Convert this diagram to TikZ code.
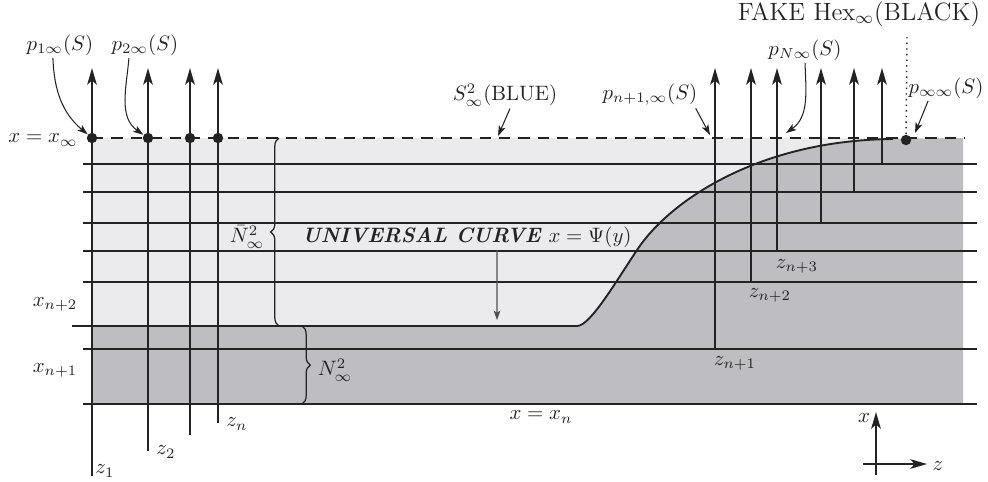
\documentclass[tikz,border=0pt]{standalone}
\usetikzlibrary{arrows.meta,decorations.pathreplacing}
\definecolor{lightfill}{RGB}{235,235,237}
\definecolor{darkfill}{RGB}{190,189,194}
\definecolor{ink}{RGB}{35,35,35}
\begin{document}
\begin{tikzpicture}[x=0.48pt,y=0.48pt,
  ln/.style={ink, line width=0.9pt},
  vup/.style={ink, line width=0.9pt, -{Stealth[length=8pt,width=4.6pt,inset=2pt]}},
  ptr/.style={ink, line width=0.5pt, -{Stealth[length=5pt,width=3.4pt,inset=1.2pt]}},
  dotc/.style={circle, fill=ink, inner sep=0pt, minimum size=5pt},
  lbl/.style={inner sep=1pt, text=ink},
  brc/.style={ink, line width=0.6pt, decorate, decoration={brace, amplitude=4pt}}
]
\useasboundingbox (0,0) rectangle (988,-481);
% regions
\fill[lightfill] (92,-138) rectangle (963,-404);
\fill[darkfill] (92,-326) -- (577,-326) .. controls (590,-326) and (615,-283) .. (637,-250)
  .. controls (670,-200) and (760,-140) .. (893,-139) -- (963,-138) -- (963,-404) -- (92,-404) -- cycle;
% horizontal lines
\foreach \y in {164,192,223,251,282,349,404} \draw[ln] (83,-\y) -- (977,-\y);
% universal curve
\draw[ln] (72,-326) -- (577,-326) .. controls (590,-326) and (615,-283) .. (637,-250)
  .. controls (670,-200) and (760,-140) .. (893,-139);
% dashed S line
\draw[ink, line width=0.7pt, dash pattern=on 5.5pt off 3.8pt] (92,-138) -- (965,-138);
% left verticals
\coordinate (b1) at (92,-476);  \coordinate (t1) at (92,-68);
\coordinate (b2) at (148,-451); \coordinate (t2) at (148,-68);
\coordinate (b3) at (190,-435); \coordinate (t3) at (190,-68);
\coordinate (b4) at (218,-423); \coordinate (t4) at (218,-68);
\foreach \i in {1,2,3,4} \draw[vup] (b\i) -- (t\i);
% right verticals
\coordinate (r1) at (715,-349); \coordinate (s1) at (715,-68);
\coordinate (r2) at (751,-282); \coordinate (s2) at (751,-68);
\coordinate (r3) at (777,-251); \coordinate (s3) at (777,-68);
\coordinate (r4) at (821,-223); \coordinate (s4) at (821,-68);
\coordinate (r5) at (854,-192); \coordinate (s5) at (854,-68);
\coordinate (r6) at (882,-164); \coordinate (s6) at (882,-68);
\foreach \i in {1,...,6} \draw[vup] (r\i) -- (s\i);
% dots
\node[dotc] (d1) at (92,-138) {};
\node[dotc] (d2) at (148,-138) {};
\node[dotc] (d3) at (190,-138) {};
\node[dotc] (d4) at (218,-138) {};
\node[dotc] (dinf) at (906,-140) {};
% braces
\draw[brc] (279,-326) -- (279,-138);
\draw[brc] (302,-326) -- (302,-404);
\node[lbl] (nbar) at (247,-237) {$\bar N^2_\infty$};
\node[lbl] (nlow) at (335,-370) {$N^2_\infty$};
% left labels
\node[lbl] (xinf) at (43,-140) {$x=x_\infty$};
\node[lbl] (xn2) at (55,-304) {$x_{n+2}$};
\node[lbl] (xn1) at (55,-370) {$x_{n+1}$};
\node[lbl] (xn) at (541,-417) {$x=x_n$};
% z labels
\node[lbl] (z1) at (105,-471) {$z_1$};
\node[lbl] (z2) at (166,-452) {$z_2$};
\node[lbl] (zn) at (237,-424) {$z_n$};
\node[lbl] (zn1) at (735,-363) {$z_{n+1}$};
\node[lbl] (zn2) at (770,-295) {$z_{n+2}$};
\node[lbl] (zn3) at (797,-266) {$z_{n+3}$};
% top labels and pointers
\node[lbl] (p1) at (60,-45) {$p_{1\infty}(S)$};
\node[lbl] (p2) at (145,-45) {$p_{2\infty}(S)$};
\draw[ptr] ([xshift=-3.4pt]p1.south) to[out=-88,in=140] (d1);
\draw[ptr] ([xshift=-7.7pt]p2.south) to[out=-95,in=145] (d2);
\node[lbl] (sblue) at (505,-95) {$S^2_\infty$(BLUE)};
\coordinate (sbt) at (498,-136);
\draw[ptr] ([xshift=2.4pt]sblue.south) -- (sbt);
\node[lbl] (pn1) at (650,-95) {$p_{n+1,\infty}(S)$};
\coordinate (pn1t) at (710,-135);
\draw[ptr] ([xshift=-2pt]pn1.south east) -- (pn1t);
\node[lbl] (pN) at (805,-50) {$p_{N\infty}(S)$};
\coordinate (pNt) at (786,-133);
\draw[ptr] (pN.south) to[out=-88,in=35] (pNt);
\node[lbl] (pinf) at (946,-88) {$p_{\infty\infty}(S)$};
\coordinate (pinft) at (915,-133);
\draw[ptr] ([xshift=-8.6pt]pinf.south) -- (pinft);
\node[lbl, font=\large] (fake) at (859,-14) {FAKE Hex$_\infty$(BLACK)};
\coordinate (fakeb) at (907,-37);
\draw[ink, line width=0.7pt, dotted] (fakeb) -- (dinf);
% universal curve label
\node[lbl] (uc) at (467,-237) {\textbf{\textit{UNIVERSAL CURVE}} $x=\Psi(y)$};
\coordinate (uct) at (497,-320);
\draw[ink!80, line width=0.5pt, -{Stealth[length=4.5pt,width=3.2pt,inset=1pt]}] ([xshift=14.4pt]uc.south) -- (uct);
% axes
\coordinate (axb) at (876,-475); \coordinate (axt) at (876,-412);
\coordinate (azl) at (863,-464); \coordinate (azr) at (927,-464);
\draw[vup] (axb) -- (axt);
\draw[vup] (azl) -- (azr);
\node[lbl] (axx) at (864,-418) {$x$};
\node[lbl] (azz) at (938,-466) {$z$};
\end{tikzpicture}
\end{document}
